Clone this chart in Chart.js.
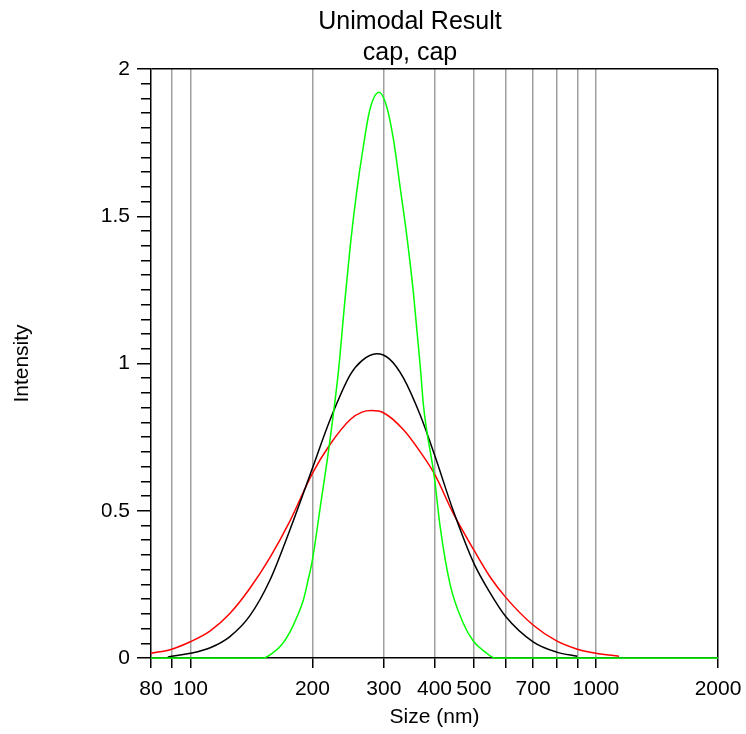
<!DOCTYPE html>
<html lang="en">
<head>
    <meta charset="UTF-8">
    <title>Unimodal Result</title>
    <style>
        body { margin: 0; background: #fff; }
    </style>
</head>
<body>
    <canvas id="myChart" width="746" height="734"></canvas>

    <script src="https://cdn.jsdelivr.net/npm/chart.js"></script>
    <script>
        // values (size in nm, intensity)
        const redSizes   = [80, 90, 100, 112, 125, 140, 157, 176, 200, 221, 248, 265, 280, 300, 335, 369, 400, 445, 500, 548, 600, 700, 800, 900, 1000, 1140];
        const redValues  = [0.016, 0.03, 0.055, 0.092, 0.15, 0.235, 0.34, 0.465, 0.627, 0.725, 0.81, 0.835, 0.84, 0.832, 0.776, 0.7, 0.625, 0.491, 0.367, 0.276, 0.205, 0.112, 0.058, 0.03, 0.016, 0.006];

        const blackSizes  = [88, 90, 100, 112, 125, 140, 157, 176, 200, 221, 248, 265, 288, 310, 335, 369, 400, 445, 500, 548, 600, 700, 800, 900];
        const blackValues = [0.003, 0.006, 0.016, 0.035, 0.072, 0.142, 0.263, 0.435, 0.644, 0.808, 0.962, 1.01, 1.033, 1.015, 0.952, 0.824, 0.69, 0.5, 0.322, 0.222, 0.14, 0.055, 0.02, 0.006];

        const greenSizes  = [80, 151, 160, 168, 176, 184, 190, 195, 200, 209, 221, 232, 240, 248, 257, 267, 277, 292, 305, 317, 329, 342, 355, 369, 376, 400, 413, 437, 471, 500, 533, 564, 2000];
        const greenValues = [0, 0, 0.018, 0.045, 0.088, 0.145, 0.197, 0.262, 0.333, 0.51, 0.74, 0.978, 1.2, 1.4, 1.58, 1.736, 1.861, 1.921, 1.872, 1.759, 1.6, 1.431, 1.238, 0.989, 0.853, 0.61, 0.446, 0.25, 0.118, 0.055, 0.021, 0, 0];

        // axis ticks
        const xTickValues  = [80, 90, 100, 200, 300, 400, 500, 600, 700, 800, 900, 1000, 2000];
        const xTickLabels  = [80, 100, 200, 300, 400, 500, 700, 1000, 2000];
        const yMajorValues = [0, 0.5, 1, 1.5, 2];

        const toPoints = (xs, ys) => xs.map((x, i) => ({ x: x, y: ys[i] }));
        const isMajorY = v => yMajorValues.some(m => Math.abs(m - v) < 1e-6);

        const lineStyle = {
            pointRadius: 0,
            borderWidth: 1.5,
            cubicInterpolationMode: 'monotone',
            clip: false
        };

        const data = {
            datasets: [
                Object.assign({ label: 'green', data: toPoints(greenSizes, greenValues), borderColor: '#00ff00' }, lineStyle),
                Object.assign({ label: 'black', data: toPoints(blackSizes, blackValues), borderColor: '#000000' }, lineStyle),
                Object.assign({ label: 'red', data: toPoints(redSizes, redValues), borderColor: '#ff0000' }, lineStyle)
            ]
        };

        const font = { family: "'Liberation Sans', Arial, sans-serif", size: 21 };

        const config = {
            type: 'line',
            data: data,
            options: {
                responsive: false,
                animation: false,
                devicePixelRatio: 1,
                // left padding moves the title centre over to where the reference has it
                layout: { padding: { left: 102, right: 28, top: 0, bottom: 0 } },
                plugins: {
                    legend: { display: false },
                    tooltip: { enabled: false },
                    title: {
                        display: true,
                        text: ['Unimodal Result', 'cap, cap'],
                        color: '#000',
                        font: { family: font.family, size: 25, weight: 'normal', lineHeight: 1.24 },
                        padding: { top: 7, bottom: 0 }
                    }
                },
                scales: {
                    x: {
                        type: 'logarithmic',
                        position: 'bottom',
                        min: 80,
                        max: 2000,
                        afterBuildTicks: scale => {
                            scale.ticks = xTickValues.map(v => ({ value: v }));
                        },
                        afterFit: scale => {
                            scale.height = 76;
                            scale.paddingLeft = 0;
                            scale.paddingRight = 0;
                        },
                        ticks: {
                            autoSkip: false,
                            maxRotation: 0,
                            minRotation: 0,
                            padding: 9,
                            color: '#000',
                            font: font,
                            callback: value => xTickLabels.includes(value) ? String(value) : ''
                        },
                        grid: {
                            color: ctx => {
                                if (!ctx.tick) return 'rgba(0,0,0,0)';
                                if (ctx.tick.value === 2000) return '#000';
                                if (ctx.tick.value === 80) return 'rgba(0,0,0,0)';
                                return '#a0a0a0';
                            },
                            lineWidth: 1.5,
                            tickColor: '#000',
                            tickWidth: 1.5,
                            tickLength: 10
                        },
                        border: { color: '#000', width: 1.5 },
                        title: {
                            display: true,
                            text: 'Size (nm)',
                            color: '#000',
                            font: font,
                            padding: { top: 0, bottom: 4 }
                        }
                    },
                    y: {
                        type: 'linear',
                        min: 0,
                        max: 2,
                        afterFit: scale => { scale.width = 49; },
                        ticks: {
                            stepSize: 0.05,
                            autoSkip: false,
                            padding: 7,
                            color: '#000',
                            font: font,
                            callback: value => isMajorY(value) ? String(Number(value.toFixed(2))) : ''
                        },
                        grid: {
                            // only the top frame line, no horizontal grid
                            color: ctx => (ctx.tick && Math.abs(ctx.tick.value - 2) < 1e-6) ? '#000' : 'rgba(0,0,0,0)',
                            lineWidth: 1.5,
                            tickColor: '#000',
                            tickWidth: 1.5,
                            tickLength: 14,
                            tickBorderDash: ctx => (ctx.tick && isMajorY(ctx.tick.value)) ? [] : [0, 4, 10, 100]
                        },
                        border: { color: '#000', width: 1.5 },
                        title: {
                            display: true,
                            text: 'Intensity',
                            color: '#000',
                            font: font,
                            // negative: the axis title sits out in the left padding
                            padding: { top: -92, bottom: 0 }
                        }
                    }
                }
            }
        };

        const ctx = document.getElementById('myChart').getContext('2d');
        new Chart(ctx, config);
    </script>
</body>
</html>
